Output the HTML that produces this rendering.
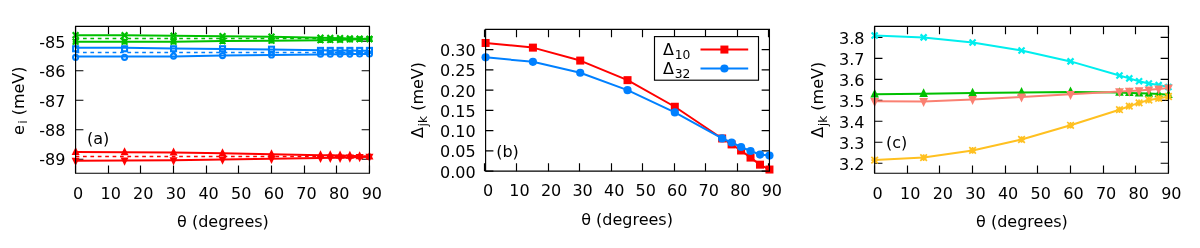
<!DOCTYPE html>
<html><head><meta charset="utf-8"><title>plots</title>
<style>html,body{margin:0;padding:0;background:#fff}svg{display:block}text{font-family:"DejaVu Sans", "Liberation Sans", sans-serif;font-size:16px;fill:#000}</style>
</head><body>
<svg width="1200" height="248" viewBox="0 0 1200 248">
<rect width="1200" height="248" fill="#fff"/>
<path d="M75.5 173.2v-7.8M75.5 26.4v7.8M108.5 173.2v-7.8M108.5 26.4v7.8M140.5 173.2v-7.8M140.5 26.4v7.8M173.5 173.2v-7.8M173.5 26.4v7.8M206.5 173.2v-7.8M206.5 26.4v7.8M238.5 173.2v-7.8M238.5 26.4v7.8M271.5 173.2v-7.8M271.5 26.4v7.8M304.5 173.2v-7.8M304.5 26.4v7.8M336.5 173.2v-7.8M336.5 26.4v7.8M369.5 173.2v-7.8M369.5 26.4v7.8M75.6 70.70h7.8M369.45 70.70h-7.8M75.6 100.20h7.8M369.45 100.20h-7.8M75.6 129.70h7.8M369.45 129.70h-7.8M75.6 159.20h7.8M369.45 159.20h-7.8" fill="none" stroke="#000" stroke-width="1.15"/>
<path d="M369.45 41.20h-7.8" fill="none" stroke="#000" stroke-width="1.15"/>
<path d="M75.60 156.60L124.57 156.60L173.55 156.60L222.53 156.60L271.50 156.60L320.48 156.60L330.27 156.60L340.07 156.60L349.86 156.60L359.65 156.60L369.45 156.60" fill="none" stroke="#ff0000" stroke-width="1.5" stroke-linejoin="round" stroke-dasharray="3.7 3.7"/>
<path d="M75.60 152.10L124.57 152.20L173.55 152.60L222.53 153.30L271.50 154.20L320.48 155.20L330.27 155.30L340.07 155.50L349.86 155.70L359.65 156.20L369.45 156.60" fill="none" stroke="#ff0000" stroke-width="2.0" stroke-linejoin="round"/>
<path d="M75.60 147.10L79.60 155.10H71.60Z" fill="#ff0000"/>
<path d="M124.57 147.20L128.57 155.20H120.57Z" fill="#ff0000"/>
<path d="M173.55 147.60L177.55 155.60H169.55Z" fill="#ff0000"/>
<path d="M222.53 148.30L226.53 156.30H218.53Z" fill="#ff0000"/>
<path d="M271.50 149.20L275.50 157.20H267.50Z" fill="#ff0000"/>
<path d="M320.48 150.20L324.48 158.20H316.48Z" fill="#ff0000"/>
<path d="M330.27 150.30L334.27 158.30H326.27Z" fill="#ff0000"/>
<path d="M340.07 150.50L344.07 158.50H336.07Z" fill="#ff0000"/>
<path d="M349.86 150.70L353.86 158.70H345.86Z" fill="#ff0000"/>
<path d="M359.65 151.20L363.65 159.20H355.65Z" fill="#ff0000"/>
<path d="M369.45 151.60L373.45 159.60H365.45Z" fill="#ff0000"/>
<path d="M75.60 160.70L124.57 160.60L173.55 160.20L222.53 159.60L271.50 158.80L320.48 157.90L330.27 157.80L340.07 157.70L349.86 157.50L359.65 157.00L369.45 156.70" fill="none" stroke="#ff0000" stroke-width="2.0" stroke-linejoin="round"/>
<path d="M75.60 165.90L79.60 157.70H71.60Z" fill="#ff0000"/>
<path d="M124.57 165.80L128.57 157.60H120.57Z" fill="#ff0000"/>
<path d="M173.55 165.40L177.55 157.20H169.55Z" fill="#ff0000"/>
<path d="M222.53 164.80L226.53 156.60H218.53Z" fill="#ff0000"/>
<path d="M271.50 164.00L275.50 155.80H267.50Z" fill="#ff0000"/>
<path d="M320.48 163.10L324.48 154.90H316.48Z" fill="#ff0000"/>
<path d="M330.27 163.00L334.27 154.80H326.27Z" fill="#ff0000"/>
<path d="M340.07 162.90L344.07 154.70H336.07Z" fill="#ff0000"/>
<path d="M349.86 162.70L353.86 154.50H345.86Z" fill="#ff0000"/>
<path d="M359.65 162.20L363.65 154.00H355.65Z" fill="#ff0000"/>
<path d="M369.45 161.90L373.45 153.70H365.45Z" fill="#ff0000"/>
<path d="M75.60 52.60L124.57 52.60L173.55 52.60L222.53 52.60L271.50 52.60L320.48 52.60L330.27 52.60L340.07 52.60L349.86 52.60L359.65 52.60L369.45 52.60" fill="none" stroke="#0080ff" stroke-width="1.5" stroke-linejoin="round" stroke-dasharray="3.7 3.7"/>
<path d="M75.60 47.70L124.57 47.80L173.55 48.60L222.53 48.90L271.50 49.60L320.48 50.30L330.27 50.40L340.07 50.50L349.86 50.60L359.65 50.70L369.45 50.80" fill="none" stroke="#0080ff" stroke-width="2.0" stroke-linejoin="round"/>
<rect x="73.10" y="46.25" width="5.00" height="5.00" fill="none" stroke="#0080ff" stroke-width="2.1"/>
<rect x="122.07" y="46.25" width="5.00" height="5.00" fill="none" stroke="#0080ff" stroke-width="2.1"/>
<rect x="171.05" y="46.25" width="5.00" height="5.00" fill="none" stroke="#0080ff" stroke-width="2.1"/>
<rect x="220.03" y="46.25" width="5.00" height="5.00" fill="none" stroke="#0080ff" stroke-width="2.1"/>
<rect x="269.00" y="46.70" width="5.00" height="5.00" fill="none" stroke="#0080ff" stroke-width="2.1"/>
<rect x="317.98" y="47.90" width="5.00" height="5.00" fill="none" stroke="#0080ff" stroke-width="2.1"/>
<rect x="327.77" y="47.90" width="5.00" height="5.00" fill="none" stroke="#0080ff" stroke-width="2.1"/>
<rect x="337.57" y="47.90" width="5.00" height="5.00" fill="none" stroke="#0080ff" stroke-width="2.1"/>
<rect x="347.36" y="47.90" width="5.00" height="5.00" fill="none" stroke="#0080ff" stroke-width="2.1"/>
<rect x="357.15" y="47.90" width="5.00" height="5.00" fill="none" stroke="#0080ff" stroke-width="2.1"/>
<rect x="366.95" y="47.90" width="5.00" height="5.00" fill="none" stroke="#0080ff" stroke-width="2.1"/>
<path d="M75.60 56.40L124.57 56.40L173.55 56.40L222.53 55.60L271.50 54.90L320.48 54.40L330.27 54.30L340.07 54.20L349.86 54.10L359.65 54.00L369.45 53.90" fill="none" stroke="#0080ff" stroke-width="2.0" stroke-linejoin="round"/>
<circle cx="75.60" cy="57.30" r="2.55" fill="none" stroke="#0080ff" stroke-width="2.1"/>
<circle cx="124.57" cy="57.30" r="2.55" fill="none" stroke="#0080ff" stroke-width="2.1"/>
<circle cx="173.55" cy="56.10" r="2.55" fill="none" stroke="#0080ff" stroke-width="2.1"/>
<circle cx="222.53" cy="55.60" r="2.55" fill="none" stroke="#0080ff" stroke-width="2.1"/>
<circle cx="271.50" cy="54.90" r="2.55" fill="none" stroke="#0080ff" stroke-width="2.1"/>
<circle cx="320.48" cy="54.20" r="2.55" fill="none" stroke="#0080ff" stroke-width="2.1"/>
<circle cx="330.27" cy="54.20" r="2.55" fill="none" stroke="#0080ff" stroke-width="2.1"/>
<circle cx="340.07" cy="54.10" r="2.55" fill="none" stroke="#0080ff" stroke-width="2.1"/>
<circle cx="349.86" cy="54.10" r="2.55" fill="none" stroke="#0080ff" stroke-width="2.1"/>
<circle cx="359.65" cy="54.00" r="2.55" fill="none" stroke="#0080ff" stroke-width="2.1"/>
<circle cx="369.45" cy="54.00" r="2.55" fill="none" stroke="#0080ff" stroke-width="2.1"/>
<path d="M75.60 38.60L124.57 38.60L173.55 38.60L222.53 38.60L271.50 38.60L320.48 38.60L330.27 38.60L340.07 38.60L349.86 38.60L359.65 38.60L369.45 38.60" fill="none" stroke="#00c000" stroke-width="1.5" stroke-linejoin="round" stroke-dasharray="3.7 3.7"/>
<path d="M75.60 35.20L124.57 35.30L173.55 35.80L222.53 36.20L271.50 36.70L320.48 37.80L330.27 38.00L340.07 38.20L349.86 38.50L359.65 38.80L369.45 39.00" fill="none" stroke="#00c000" stroke-width="2.0" stroke-linejoin="round"/>
<path d="M72.70 32.30L78.50 38.10M72.70 38.10L78.50 32.30" fill="none" stroke="#00c000" stroke-width="2.2"/>
<path d="M121.67 32.40L127.47 38.20M121.67 38.20L127.47 32.40" fill="none" stroke="#00c000" stroke-width="2.2"/>
<path d="M170.65 32.90L176.45 38.70M170.65 38.70L176.45 32.90" fill="none" stroke="#00c000" stroke-width="2.2"/>
<path d="M219.62 33.30L225.43 39.10M219.62 39.10L225.43 33.30" fill="none" stroke="#00c000" stroke-width="2.2"/>
<path d="M268.60 33.80L274.40 39.60M268.60 39.60L274.40 33.80" fill="none" stroke="#00c000" stroke-width="2.2"/>
<path d="M317.58 34.90L323.38 40.70M317.58 40.70L323.38 34.90" fill="none" stroke="#00c000" stroke-width="2.2"/>
<path d="M327.37 35.10L333.17 40.90M327.37 40.90L333.17 35.10" fill="none" stroke="#00c000" stroke-width="2.2"/>
<path d="M337.17 35.30L342.97 41.10M337.17 41.10L342.97 35.30" fill="none" stroke="#00c000" stroke-width="2.2"/>
<path d="M346.96 35.60L352.76 41.40M346.96 41.40L352.76 35.60" fill="none" stroke="#00c000" stroke-width="2.2"/>
<path d="M356.75 35.90L362.55 41.70M356.75 41.70L362.55 35.90" fill="none" stroke="#00c000" stroke-width="2.2"/>
<path d="M366.55 36.10L372.35 41.90M366.55 41.90L372.35 36.10" fill="none" stroke="#00c000" stroke-width="2.2"/>
<path d="M75.60 41.70L124.57 41.70L173.55 41.70L222.53 41.10L271.50 40.70L320.48 40.20L330.27 40.00L340.07 39.80L349.86 39.50L359.65 39.20L369.45 39.00" fill="none" stroke="#00c000" stroke-width="2.0" stroke-linejoin="round"/>
<path d="M72.70 38.80L78.50 44.60M72.70 44.60L78.50 38.80M75.60 38.80V44.60M72.70 41.70H78.50" fill="none" stroke="#00c000" stroke-width="2.0"/>
<path d="M121.67 38.80L127.47 44.60M121.67 44.60L127.47 38.80M124.57 38.80V44.60M121.67 41.70H127.47" fill="none" stroke="#00c000" stroke-width="2.0"/>
<path d="M170.65 38.80L176.45 44.60M170.65 44.60L176.45 38.80M173.55 38.80V44.60M170.65 41.70H176.45" fill="none" stroke="#00c000" stroke-width="2.0"/>
<path d="M219.62 38.20L225.43 44.00M219.62 44.00L225.43 38.20M222.53 38.20V44.00M219.62 41.10H225.43" fill="none" stroke="#00c000" stroke-width="2.0"/>
<path d="M268.60 37.80L274.40 43.60M268.60 43.60L274.40 37.80M271.50 37.80V43.60M268.60 40.70H274.40" fill="none" stroke="#00c000" stroke-width="2.0"/>
<path d="M317.58 37.30L323.38 43.10M317.58 43.10L323.38 37.30M320.48 37.30V43.10M317.58 40.20H323.38" fill="none" stroke="#00c000" stroke-width="2.0"/>
<path d="M327.37 37.10L333.17 42.90M327.37 42.90L333.17 37.10M330.27 37.10V42.90M327.37 40.00H333.17" fill="none" stroke="#00c000" stroke-width="2.0"/>
<path d="M337.17 36.90L342.97 42.70M337.17 42.70L342.97 36.90M340.07 36.90V42.70M337.17 39.80H342.97" fill="none" stroke="#00c000" stroke-width="2.0"/>
<path d="M346.96 36.60L352.76 42.40M346.96 42.40L352.76 36.60M349.86 36.60V42.40M346.96 39.50H352.76" fill="none" stroke="#00c000" stroke-width="2.0"/>
<path d="M356.75 36.30L362.55 42.10M356.75 42.10L362.55 36.30M359.65 36.30V42.10M356.75 39.20H362.55" fill="none" stroke="#00c000" stroke-width="2.0"/>
<path d="M366.55 36.10L372.35 41.90M366.55 41.90L372.35 36.10M369.45 36.10V41.90M366.55 39.00H372.35" fill="none" stroke="#00c000" stroke-width="2.0"/>
<path d="M75.6 26.4H369.45V173.2H75.6Z" fill="none" stroke="#000" stroke-width="1.15"/>
<text x="65.40" y="47.90" text-anchor="end" >-85</text>
<text x="65.40" y="77.20" text-anchor="end" >-86</text>
<text x="65.40" y="106.50" text-anchor="end" >-87</text>
<text x="65.40" y="135.80" text-anchor="end" >-88</text>
<text x="65.40" y="165.10" text-anchor="end" >-89</text>
<text x="78.00" y="198.50" text-anchor="middle" >0</text>
<text x="110.65" y="198.50" text-anchor="middle" >10</text>
<text x="143.30" y="198.50" text-anchor="middle" >20</text>
<text x="175.95" y="198.50" text-anchor="middle" >30</text>
<text x="208.60" y="198.50" text-anchor="middle" >40</text>
<text x="241.25" y="198.50" text-anchor="middle" >50</text>
<text x="273.90" y="198.50" text-anchor="middle" >60</text>
<text x="306.55" y="198.50" text-anchor="middle" >70</text>
<text x="339.20" y="198.50" text-anchor="middle" >80</text>
<text x="371.85" y="198.50" text-anchor="middle" >90</text>
<text x="222.92" y="226.50" text-anchor="middle" >θ (degrees)</text>
<text transform="translate(24,100.8) rotate(-90)" text-anchor="middle">e<tspan dx="1.4" dy="3.4" font-size="12.3">i</tspan><tspan dy="-3.4"> (meV)</tspan></text>
<text x="87.00" y="143.50" text-anchor="start" >(a)</text>
<path d="M484.5 171.15v-7.8M484.5 29.4v7.8M516.5 171.15v-7.8M516.5 29.4v7.8M548.5 171.15v-7.8M548.5 29.4v7.8M579.5 171.15v-7.8M579.5 29.4v7.8M611.5 171.15v-7.8M611.5 29.4v7.8M642.5 171.15v-7.8M642.5 29.4v7.8M674.5 171.15v-7.8M674.5 29.4v7.8M705.5 171.15v-7.8M705.5 29.4v7.8M737.5 171.15v-7.8M737.5 29.4v7.8M768.5 171.15v-7.8M768.5 29.4v7.8M485.6 171.15h7.8M769.45 171.15h-7.8M485.6 150.90h7.8M769.45 150.90h-7.8M485.6 130.65h7.8M769.45 130.65h-7.8M485.6 110.40h7.8M769.45 110.40h-7.8M485.6 90.15h7.8M769.45 90.15h-7.8M485.6 69.90h7.8M769.45 69.90h-7.8M485.6 49.65h7.8M769.45 49.65h-7.8" fill="none" stroke="#000" stroke-width="1.15"/>
<path d="M485.60 42.97L532.91 47.62L580.22 60.58L627.53 80.15L674.83 106.75L722.14 138.47L731.60 144.42L741.07 150.50L750.53 157.58L759.99 164.67L769.45 169.53" fill="none" stroke="#ff0000" stroke-width="2.0" stroke-linejoin="round"/>
<rect x="481.60" y="38.97" width="8.00" height="8.00" fill="#ff0000"/>
<rect x="528.91" y="43.62" width="8.00" height="8.00" fill="#ff0000"/>
<rect x="576.22" y="56.58" width="8.00" height="8.00" fill="#ff0000"/>
<rect x="623.53" y="76.15" width="8.00" height="8.00" fill="#ff0000"/>
<rect x="670.83" y="102.75" width="8.00" height="8.00" fill="#ff0000"/>
<rect x="718.14" y="134.47" width="8.00" height="8.00" fill="#ff0000"/>
<rect x="727.60" y="140.42" width="8.00" height="8.00" fill="#ff0000"/>
<rect x="737.07" y="146.50" width="8.00" height="8.00" fill="#ff0000"/>
<rect x="746.53" y="153.58" width="8.00" height="8.00" fill="#ff0000"/>
<rect x="755.99" y="160.67" width="8.00" height="8.00" fill="#ff0000"/>
<rect x="765.45" y="165.53" width="8.00" height="8.00" fill="#ff0000"/>
<path d="M485.60 57.34L532.91 61.80L580.22 72.73L627.53 90.15L674.83 112.43L722.14 138.47L731.60 142.52L741.07 147.01L750.53 151.02L759.99 154.55L769.45 155.56" fill="none" stroke="#0080ff" stroke-width="2.0" stroke-linejoin="round"/>
<circle cx="485.60" cy="57.34" r="4.10" fill="#0080ff"/>
<circle cx="532.91" cy="61.80" r="4.10" fill="#0080ff"/>
<circle cx="580.22" cy="72.73" r="4.10" fill="#0080ff"/>
<circle cx="627.53" cy="90.15" r="4.10" fill="#0080ff"/>
<circle cx="674.83" cy="112.43" r="4.10" fill="#0080ff"/>
<circle cx="722.14" cy="138.47" r="4.10" fill="#0080ff"/>
<circle cx="731.60" cy="142.52" r="4.10" fill="#0080ff"/>
<circle cx="741.07" cy="147.01" r="4.10" fill="#0080ff"/>
<circle cx="750.53" cy="151.02" r="4.10" fill="#0080ff"/>
<circle cx="759.99" cy="154.55" r="4.10" fill="#0080ff"/>
<circle cx="769.45" cy="155.56" r="4.10" fill="#0080ff"/>
<path d="M485.6 29.4H769.45V171.15H485.6Z" fill="none" stroke="#000" stroke-width="1.15"/>
<text x="475.70" y="177.55" text-anchor="end" >0.00</text>
<text x="475.70" y="157.30" text-anchor="end" >0.05</text>
<text x="475.70" y="137.05" text-anchor="end" >0.10</text>
<text x="475.70" y="116.80" text-anchor="end" >0.15</text>
<text x="475.70" y="96.55" text-anchor="end" >0.20</text>
<text x="475.70" y="76.30" text-anchor="end" >0.25</text>
<text x="475.70" y="56.05" text-anchor="end" >0.30</text>
<text x="488.00" y="195.60" text-anchor="middle" >0</text>
<text x="519.54" y="195.60" text-anchor="middle" >10</text>
<text x="551.08" y="195.60" text-anchor="middle" >20</text>
<text x="582.62" y="195.60" text-anchor="middle" >30</text>
<text x="614.16" y="195.60" text-anchor="middle" >40</text>
<text x="645.69" y="195.60" text-anchor="middle" >50</text>
<text x="677.23" y="195.60" text-anchor="middle" >60</text>
<text x="708.77" y="195.60" text-anchor="middle" >70</text>
<text x="740.31" y="195.60" text-anchor="middle" >80</text>
<text x="771.85" y="195.60" text-anchor="middle" >90</text>
<text x="627.03" y="224.70" text-anchor="middle" >θ (degrees)</text>
<text transform="translate(423.4,100.0) rotate(-90)" text-anchor="middle">Δ<tspan dx="0.6" dy="4" font-size="12.3">jk</tspan><tspan dy="-4"> (meV)</tspan></text>
<text x="496.20" y="157.00" text-anchor="start" >(b)</text>
<rect x="654.5" y="36.6" width="104" height="43.6" fill="#fff" stroke="#000" stroke-width="1.15"/>
<text x="663.1" y="54.8">Δ<tspan dx="0.6" dy="4" font-size="12.3">10</tspan></text>
<text x="663.1" y="74.2">Δ<tspan dx="0.6" dy="4" font-size="12.3">32</tspan></text>
<path d="M700.50 49.55L748.20 49.55" fill="none" stroke="#ff0000" stroke-width="2.0" stroke-linejoin="round"/>
<rect x="720.40" y="45.55" width="8.00" height="8.00" fill="#ff0000"/>
<path d="M700.50 68.50L748.20 68.50" fill="none" stroke="#0080ff" stroke-width="2.0" stroke-linejoin="round"/>
<circle cx="724.40" cy="68.50" r="4.10" fill="#0080ff"/>
<path d="M874.5 173.2v-7.8M874.5 26.4v7.8M907.5 173.2v-7.8M907.5 26.4v7.8M939.5 173.2v-7.8M939.5 26.4v7.8M972.5 173.2v-7.8M972.5 26.4v7.8M1005.5 173.2v-7.8M1005.5 26.4v7.8M1037.5 173.2v-7.8M1037.5 26.4v7.8M1070.5 173.2v-7.8M1070.5 26.4v7.8M1103.5 173.2v-7.8M1103.5 26.4v7.8M1135.5 173.2v-7.8M1135.5 26.4v7.8M1168.5 173.2v-7.8M1168.5 26.4v7.8M874.65 163.21h7.8M1168.45 163.21h-7.8M874.65 142.24h7.8M1168.45 142.24h-7.8M874.65 121.27h7.8M1168.45 121.27h-7.8M874.65 100.30h7.8M1168.45 100.30h-7.8M874.65 79.33h7.8M1168.45 79.33h-7.8M874.65 58.36h7.8M1168.45 58.36h-7.8M874.65 37.39h7.8M1168.45 37.39h-7.8" fill="none" stroke="#000" stroke-width="1.15"/>
<path d="M874.65 35.50L923.62 37.40L972.58 42.50L1021.55 50.50L1070.52 61.40L1119.48 75.50L1129.28 78.40L1139.07 81.20L1148.86 83.50L1158.66 85.10L1168.45 87.00" fill="none" stroke="#00eeee" stroke-width="2.0" stroke-linejoin="round"/>
<path d="M871.65 32.50L877.65 38.50M871.65 38.50L877.65 32.50" fill="none" stroke="#00eeee" stroke-width="2.2"/>
<path d="M920.62 34.40L926.62 40.40M920.62 40.40L926.62 34.40" fill="none" stroke="#00eeee" stroke-width="2.2"/>
<path d="M969.58 39.50L975.58 45.50M969.58 45.50L975.58 39.50" fill="none" stroke="#00eeee" stroke-width="2.2"/>
<path d="M1018.55 47.50L1024.55 53.50M1018.55 53.50L1024.55 47.50" fill="none" stroke="#00eeee" stroke-width="2.2"/>
<path d="M1067.52 58.40L1073.52 64.40M1067.52 64.40L1073.52 58.40" fill="none" stroke="#00eeee" stroke-width="2.2"/>
<path d="M1116.48 72.50L1122.48 78.50M1116.48 78.50L1122.48 72.50" fill="none" stroke="#00eeee" stroke-width="2.2"/>
<path d="M1126.28 75.40L1132.28 81.40M1126.28 81.40L1132.28 75.40" fill="none" stroke="#00eeee" stroke-width="2.2"/>
<path d="M1136.07 78.20L1142.07 84.20M1136.07 84.20L1142.07 78.20" fill="none" stroke="#00eeee" stroke-width="2.2"/>
<path d="M1145.86 80.50L1151.86 86.50M1145.86 86.50L1151.86 80.50" fill="none" stroke="#00eeee" stroke-width="2.2"/>
<path d="M1155.66 82.10L1161.66 88.10M1155.66 88.10L1161.66 82.10" fill="none" stroke="#00eeee" stroke-width="2.2"/>
<path d="M1165.45 84.00L1171.45 90.00M1165.45 90.00L1171.45 84.00" fill="none" stroke="#00eeee" stroke-width="2.2"/>
<path d="M874.65 94.25L923.62 93.70L972.58 93.10L1021.55 92.50L1070.52 91.90L1119.48 92.60L1129.28 92.90L1139.07 93.30L1148.86 93.60L1158.66 94.10L1168.45 94.80" fill="none" stroke="#00c000" stroke-width="2.0" stroke-linejoin="round"/>
<path d="M874.65 88.88L878.95 97.47H870.35Z" fill="#00c000"/>
<path d="M923.62 88.33L927.92 96.92H919.32Z" fill="#00c000"/>
<path d="M972.58 87.72L976.88 96.32H968.28Z" fill="#00c000"/>
<path d="M1021.55 87.12L1025.85 95.72H1017.25Z" fill="#00c000"/>
<path d="M1070.52 86.53L1074.82 95.12H1066.22Z" fill="#00c000"/>
<path d="M1119.48 87.22L1123.78 95.82H1115.18Z" fill="#00c000"/>
<path d="M1129.28 87.53L1133.58 96.12H1124.98Z" fill="#00c000"/>
<path d="M1139.07 87.92L1143.37 96.52H1134.77Z" fill="#00c000"/>
<path d="M1148.86 88.22L1153.16 96.82H1144.56Z" fill="#00c000"/>
<path d="M1158.66 88.72L1162.96 97.32H1154.36Z" fill="#00c000"/>
<path d="M1168.45 89.42L1172.75 98.02H1164.15Z" fill="#00c000"/>
<path d="M874.65 101.30L923.62 101.40L972.58 99.40L1021.55 96.90L1070.52 94.30L1119.48 91.60L1129.28 91.10L1139.07 90.60L1148.86 89.80L1158.66 88.90L1168.45 87.90" fill="none" stroke="#fa8072" stroke-width="2.0" stroke-linejoin="round"/>
<path d="M874.65 107.02L879.05 98.00H870.25Z" fill="#fa8072"/>
<path d="M923.62 107.12L928.02 98.10H919.22Z" fill="#fa8072"/>
<path d="M972.58 105.12L976.98 96.10H968.18Z" fill="#fa8072"/>
<path d="M1021.55 102.62L1025.95 93.60H1017.15Z" fill="#fa8072"/>
<path d="M1070.52 100.02L1074.92 91.00H1066.12Z" fill="#fa8072"/>
<path d="M1119.48 97.32L1123.88 88.30H1115.08Z" fill="#fa8072"/>
<path d="M1129.28 96.82L1133.68 87.80H1124.88Z" fill="#fa8072"/>
<path d="M1139.07 96.32L1143.47 87.30H1134.67Z" fill="#fa8072"/>
<path d="M1148.86 95.52L1153.26 86.50H1144.46Z" fill="#fa8072"/>
<path d="M1158.66 94.62L1163.06 85.60H1154.26Z" fill="#fa8072"/>
<path d="M1168.45 93.62L1172.85 84.60H1164.05Z" fill="#fa8072"/>
<path d="M874.65 160.10L923.62 157.60L972.58 150.40L1021.55 139.50L1070.52 125.30L1119.48 109.70L1129.28 106.10L1139.07 102.90L1148.86 100.00L1158.66 98.40L1168.45 96.50" fill="none" stroke="#ffc020" stroke-width="2.0" stroke-linejoin="round"/>
<path d="M871.35 156.80L877.95 163.40M871.35 163.40L877.95 156.80M874.65 156.80V163.40M871.35 160.10H877.95" fill="none" stroke="#ffc020" stroke-width="1.7"/>
<path d="M920.32 154.30L926.92 160.90M920.32 160.90L926.92 154.30M923.62 154.30V160.90M920.32 157.60H926.92" fill="none" stroke="#ffc020" stroke-width="1.7"/>
<path d="M969.28 147.10L975.88 153.70M969.28 153.70L975.88 147.10M972.58 147.10V153.70M969.28 150.40H975.88" fill="none" stroke="#ffc020" stroke-width="1.7"/>
<path d="M1018.25 136.20L1024.85 142.80M1018.25 142.80L1024.85 136.20M1021.55 136.20V142.80M1018.25 139.50H1024.85" fill="none" stroke="#ffc020" stroke-width="1.7"/>
<path d="M1067.22 122.00L1073.82 128.60M1067.22 128.60L1073.82 122.00M1070.52 122.00V128.60M1067.22 125.30H1073.82" fill="none" stroke="#ffc020" stroke-width="1.7"/>
<path d="M1116.18 106.40L1122.78 113.00M1116.18 113.00L1122.78 106.40M1119.48 106.40V113.00M1116.18 109.70H1122.78" fill="none" stroke="#ffc020" stroke-width="1.7"/>
<path d="M1125.98 102.80L1132.58 109.40M1125.98 109.40L1132.58 102.80M1129.28 102.80V109.40M1125.98 106.10H1132.58" fill="none" stroke="#ffc020" stroke-width="1.7"/>
<path d="M1135.77 99.60L1142.37 106.20M1135.77 106.20L1142.37 99.60M1139.07 99.60V106.20M1135.77 102.90H1142.37" fill="none" stroke="#ffc020" stroke-width="1.7"/>
<path d="M1145.56 96.70L1152.16 103.30M1145.56 103.30L1152.16 96.70M1148.86 96.70V103.30M1145.56 100.00H1152.16" fill="none" stroke="#ffc020" stroke-width="1.7"/>
<path d="M1155.36 95.10L1161.96 101.70M1155.36 101.70L1161.96 95.10M1158.66 95.10V101.70M1155.36 98.40H1161.96" fill="none" stroke="#ffc020" stroke-width="1.7"/>
<path d="M1165.15 93.20L1171.75 99.80M1165.15 99.80L1171.75 93.20M1168.45 93.20V99.80M1165.15 96.50H1171.75" fill="none" stroke="#ffc020" stroke-width="1.7"/>
<path d="M874.65 26.4H1168.45V173.2H874.65Z" fill="none" stroke="#000" stroke-width="1.15"/>
<text x="864.45" y="169.81" text-anchor="end" >3.2</text>
<text x="864.45" y="148.84" text-anchor="end" >3.3</text>
<text x="864.45" y="127.87" text-anchor="end" >3.4</text>
<text x="864.45" y="106.90" text-anchor="end" >3.5</text>
<text x="864.45" y="85.93" text-anchor="end" >3.6</text>
<text x="864.45" y="64.96" text-anchor="end" >3.7</text>
<text x="864.45" y="43.99" text-anchor="end" >3.8</text>
<text x="877.55" y="198.50" text-anchor="middle" >0</text>
<text x="910.19" y="198.50" text-anchor="middle" >10</text>
<text x="942.84" y="198.50" text-anchor="middle" >20</text>
<text x="975.48" y="198.50" text-anchor="middle" >30</text>
<text x="1008.13" y="198.50" text-anchor="middle" >40</text>
<text x="1040.77" y="198.50" text-anchor="middle" >50</text>
<text x="1073.42" y="198.50" text-anchor="middle" >60</text>
<text x="1106.06" y="198.50" text-anchor="middle" >70</text>
<text x="1138.71" y="198.50" text-anchor="middle" >80</text>
<text x="1171.35" y="198.50" text-anchor="middle" >90</text>
<text x="1021.95" y="226.50" text-anchor="middle" >θ (degrees)</text>
<text transform="translate(823.1,99.8) rotate(-90)" text-anchor="middle">Δ<tspan dx="0.6" dy="4" font-size="12.3">jk</tspan><tspan dy="-4"> (meV)</tspan></text>
<text x="886.00" y="148.00" text-anchor="start" >(c)</text>
</svg></body></html>
